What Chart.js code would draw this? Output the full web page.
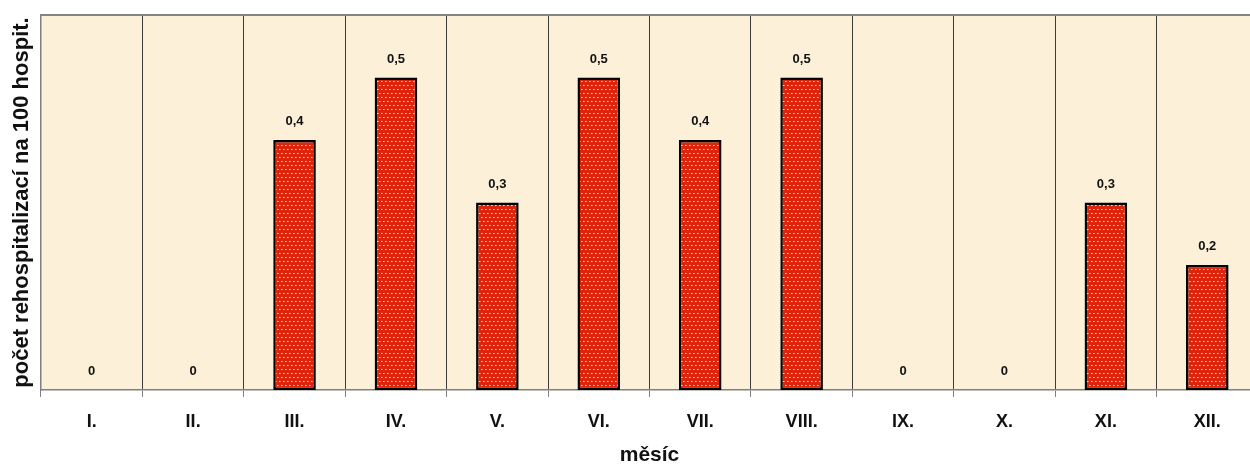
<!DOCTYPE html>
<html>
<head>
<meta charset="utf-8">
<script src="https://cdn.jsdelivr.net/npm/chart.js@4.4.0/dist/chart.umd.min.js"></script>
<style>
    html, body { margin: 0; padding: 0; background: #ffffff; overflow: hidden; }
    #wrap { width: 1260px; height: 466px; }
</style>
</head>
<body>
<div id="wrap"><canvas id="rehospChart" width="1260" height="466"></canvas></div>
<script>
// data
const months = ["I.", "II.", "III.", "IV.", "V.", "VI.", "VII.", "VIII.", "IX.", "X.", "XI.", "XII."];
const rates = [0, 0, 0.4, 0.5, 0.3, 0.5, 0.4, 0.5, 0, 0, 0.3, 0.2];
const yTitle = "počet rehospitalizací na 100 hospit.";
const xTitle = "měsíc";

const FONT = "'Liberation Sans', Arial, sans-serif";

// red fill with small light dots, like the original hatch
function makeDotPattern() {
    const p = document.createElement("canvas");
    p.width = 8;
    p.height = 8;
    const c = p.getContext("2d");
    c.fillStyle = "#e0240c";
    c.fillRect(0, 0, 8, 8);
    c.fillStyle = "#fbd3c6";
    c.fillRect(1, 1, 1, 1);
    c.fillRect(5, 1, 1, 1);
    c.fillRect(3, 5, 1, 1);
    c.fillRect(7, 5, 1, 1);
    c.fillStyle = "#ee8a74";
    c.fillRect(2, 1, 1, 1);
    c.fillRect(6, 1, 1, 1);
    c.fillRect(4, 5, 1, 1);
    c.fillRect(0, 5, 1, 1);
    return document.getElementById("rehospChart").getContext("2d").createPattern(p, "repeat");
}

const frame = {
    id: "frame",
    beforeDraw(chart) {
        const { ctx, chartArea: a } = chart;
        ctx.save();
        ctx.fillStyle = "#fcf0d9";
        ctx.fillRect(a.left, a.top, a.right - a.left, a.bottom - a.top);
        ctx.restore();
    },
    beforeDatasetsDraw(chart) {
        const { ctx, chartArea: a } = chart;
        ctx.save();
        // top border of the plot
        ctx.strokeStyle = "#858585";
        ctx.lineWidth = 2;
        ctx.beginPath();
        ctx.moveTo(a.left, a.top);
        ctx.lineTo(a.right, a.top);
        ctx.stroke();
        ctx.restore();
    }
};

const valueLabels = {
    id: "valueLabels",
    afterDatasetsDraw(chart) {
        const { ctx } = chart;
        const meta = chart.getDatasetMeta(0);
        ctx.save();
        ctx.font = "bold 13px " + FONT;
        ctx.fillStyle = "#111111";
        ctx.textAlign = "center";
        ctx.textBaseline = "bottom";
        meta.data.forEach((bar, i) => {
            const txt = String(rates[i]).replace(".", ",");
            ctx.fillText(txt, bar.x, bar.y - 12);
        });
        ctx.restore();
    }
};

new Chart(document.getElementById("rehospChart"), {
    type: "bar",
    data: {
        labels: months,
        datasets: [{
            data: rates,
            backgroundColor: makeDotPattern(),
            borderColor: "#000000",
            borderWidth: 2.5,
            borderSkipped: false,
            barPercentage: 0.42,
            categoryPercentage: 1.0,
        }]
    },
    options: {
        responsive: false,
        animation: false,
        layout: { padding: { top: 15, right: 2, left: 0, bottom: 0 } },
        scales: {
            x: {
                offset: true,
                grid: {
                    offset: true,
                    color: "#3c3c3c",
                    lineWidth: 1,
                    tickLength: 7,
                    tickColor: "#808080",
                },
                border: { color: "#808080", width: 1.5 },
                ticks: {
                    color: "#111111",
                    font: { family: FONT, size: 18, weight: "bold" },
                    padding: 14,
                    maxRotation: 0,
                },
                title: {
                    display: true,
                    text: xTitle,
                    color: "#111111",
                    font: { family: FONT, size: 21, weight: "bold" },
                    padding: { top: 2, bottom: -2 },
                },
                afterFit(scale) { scale.height = 76; }
            },
            y: {
                min: 0,
                max: 0.6,
                grid: { display: false },
                border: { color: "#808080", width: 1.5 },
                ticks: { display: false },
                title: {
                    display: true,
                    text: yTitle,
                    color: "#111111",
                    font: { family: FONT, size: 22, weight: "bold" },
                    padding: { top: 9, bottom: 0 },
                },
                afterFit(scale) { scale.width = 41; }
            }
        },
        plugins: {
            legend: { display: false },
            tooltip: { enabled: false }
        }
    },
    plugins: [frame, valueLabels]
});
</script>
</body>
</html>
